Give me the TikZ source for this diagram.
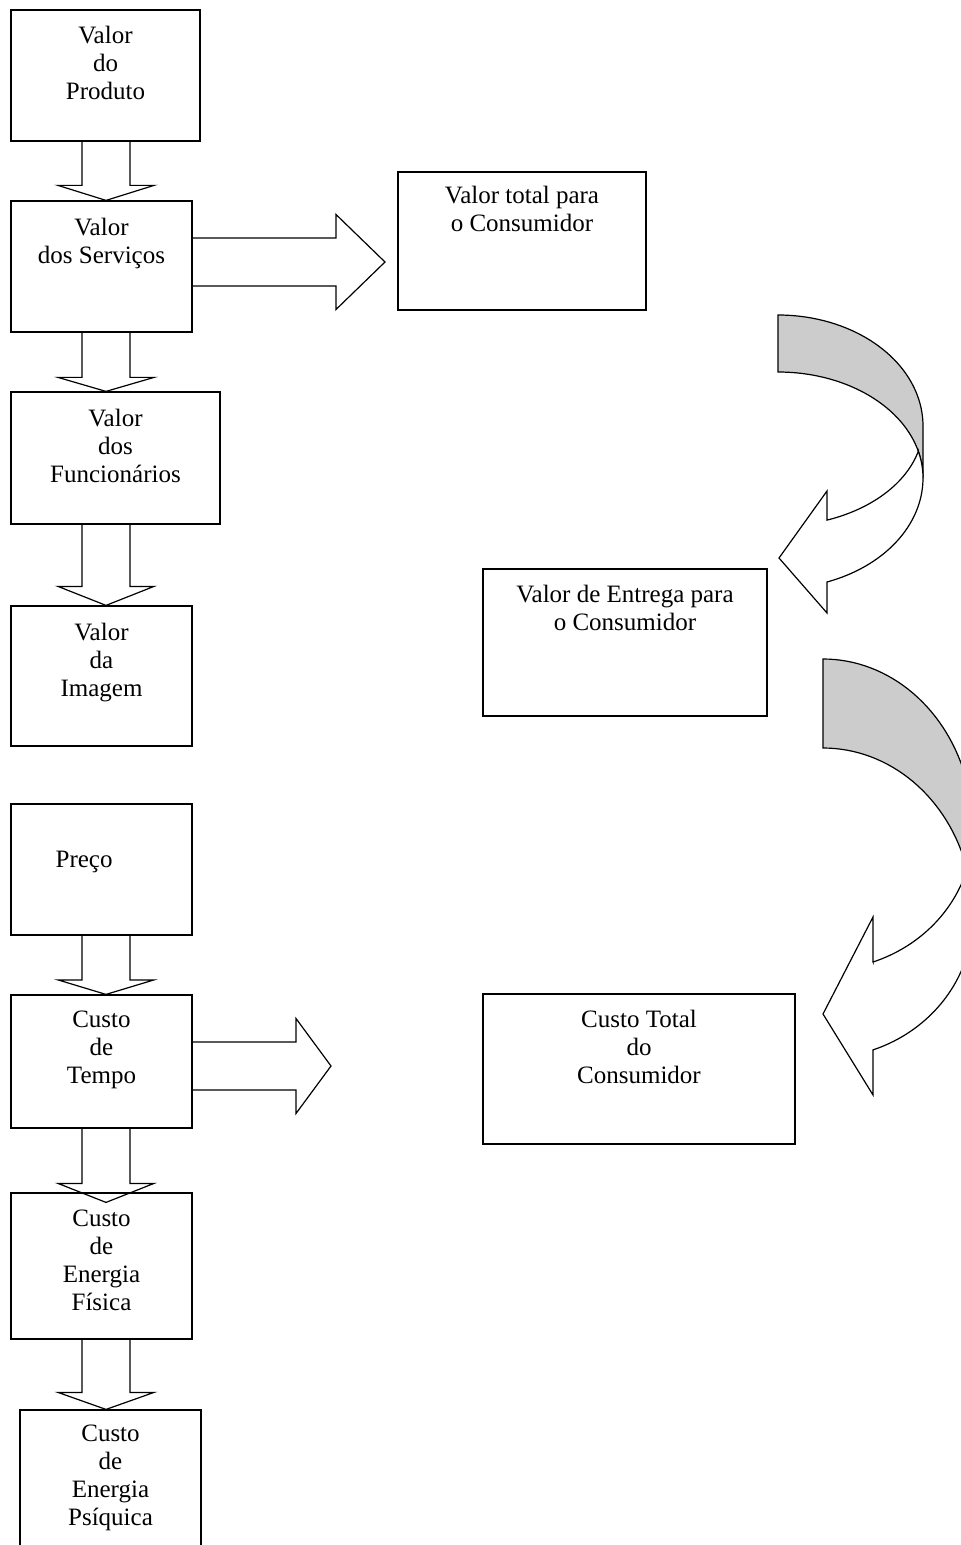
\documentclass[tikz,border=0pt]{standalone}
\usepackage{fontspec}
\setmainfont{Liberation Serif}
\usetikzlibrary{calc,fit}
\definecolor{backgray}{RGB}{204,204,204}
\newcommand\vdownarrow[4]{%
  \draw[barrow] ($(#1.south -| axis)+(-24,0)$)
    -- ($(#2.north -| axis)+(-24,#4-#3)$)
    -- ($(#2.north -| axis)+(-48,#4-#3)$)
    -- ($(#2.north -| axis)+(0,#4)$)
    -- ($(#2.north -| axis)+(48,#4-#3)$)
    -- ($(#2.north -| axis)+(24,#4-#3)$)
    -- ($(#1.south -| axis)+(24,0)$);}
\begin{document}
\begin{tikzpicture}[x=0.5pt, y=-0.5pt, line width=0.6pt,
  box/.style={draw, rectangle, inner sep=0pt},
  lbl/.style={anchor=north, inner sep=0pt, align=center, font=\fontsize{12.5}{14}\selectfont},
  barrow/.style={draw, line join=miter},
  backpart/.style={draw, fill=backgray, line join=miter},
  frontpart/.style={draw, fill=white, line join=miter}]
\useasboundingbox (0,0) rectangle (961,1545);
\fill[white] (0,0) rectangle (961,1545);
\clip (0,0) rectangle (961,1545);
\coordinate (axis) at (106,0);
% boxes
\node[box, fit={(11,10) (200,141)}] (b1) {};
\node[box, fit={(11,201) (192,332)}] (b2) {};
\node[box, fit={(11,392) (220,524)}] (b3) {};
\node[box, fit={(11,606) (192,746)}] (b4) {};
\node[box, fit={(11,804) (192,935)}] (b5) {};
\node[box, fit={(11,995) (192,1128)}] (b6) {};
\node[box, fit={(11,1193) (192,1339)}] (b7) {};
\node[box, fit={(20,1410) (201,1570)}] (b8) {};
\node[box, fit={(398,172) (646,310)}] (vt) {};
\node[box, fit={(483,569) (767,716)}] (ve) {};
\node[box, fit={(483,994) (795,1144)}] (ct) {};
% texts
\node[lbl] (t1) at ($(b1.north)+(0,16)$) {Valor\\do\\Produto};
\node[lbl] (t2) at ($(b2.north)+(0,17)$) {Valor\\dos Serviços};
\node[lbl] (t3) at ($(b3.north)+(0,17)$) {Valor\\dos\\Funcionários};
\node[lbl] (t4) at ($(b4.north)+(0,17)$) {Valor\\da\\Imagem};
\node[lbl, anchor=north west] (t5) at (55,850.5) {Preço};
\node[lbl] (t6) at ($(b6.north)+(0,16)$) {Custo\\de\\Tempo};
\node[lbl] (t7) at ($(b7.north)+(0,17)$) {Custo\\de\\Energia\\Física};
\node[lbl] (t8) at ($(b8.north)+(0,15)$) {Custo\\de\\Energia\\Psíquica};
\node[lbl] (tvt) at ($(vt.north)+(0,14)$) {Valor total para\\o Consumidor};
\node[lbl] (tve) at ($(ve.north)+(0,16)$) {Valor de Entrega para\\o Consumidor};
\node[lbl] (tct) at ($(ct.north)+(0,16)$) {Custo Total\\do\\Consumidor};
% down block arrows
\vdownarrow{b1}{b2}{15}{0}
\vdownarrow{b2}{b3}{14}{0}
\vdownarrow{b3}{b4}{19}{0}
\vdownarrow{b5}{b6}{14.5}{0}
\vdownarrow{b6}{b7}{19}{10}
\vdownarrow{b7}{b8}{17}{0}
% right block arrows
\coordinate (ra1tip) at (385,262);
\draw[barrow] ($(b2.east |- ra1tip)+(0,-24)$) -- ($(ra1tip)+(-49,-24)$) -- ($(ra1tip)+(-49,-47.5)$)
  -- (ra1tip) -- ($(ra1tip)+(-49,47.5)$) -- ($(ra1tip)+(-49,24)$) -- ($(b2.east |- ra1tip)+(0,24)$);
\coordinate (ra2tip) at (331,1066);
\draw[barrow] ($(b6.east |- ra2tip)+(0,-24)$) -- ($(ra2tip)+(-35,-24)$) -- ($(ra2tip)+(-35,-47.5)$)
  -- (ra2tip) -- ($(ra2tip)+(-35,47.5)$) -- ($(ra2tip)+(-35,24)$) -- ($(b6.east |- ra2tip)+(0,24)$);
% curved arrow 1
\path[backpart] plot[domain=90:0, samples=40] ({778+145*cos(\x)},{426-111*sin(\x)})
  -- (923,478)
  -- plot[domain=0:90, samples=40] ({778+145*cos(\x)},{478-106*sin(\x)}) -- cycle;
\path[frontpart] plot[domain=14.62:0, samples=12] ({778+145*cos(\x)},{478-106*sin(\x)})
  -- plot[domain=0:70.25, samples=40] ({778+145*cos(\x)},{478+110.5*sin(\x)})
  -- (827,613) -- (779,558) -- (827,491) -- (827,520)
  -- plot[domain=70.25:14.62, samples=40] ({778+145*cos(\x)},{426+100*sin(\x)}) -- cycle;
% curved arrow 2
\path[backpart] plot[domain=90:0, samples=40] ({823+150*cos(\x)},{830-171*sin(\x)})
  -- (973,916)
  -- plot[domain=0:90, samples=40] ({823+150*cos(\x)},{916-168*sin(\x)}) -- cycle;
\path[frontpart] plot[domain=16.21:0, samples=12] ({823+150*cos(\x)},{916-168*sin(\x)})
  -- plot[domain=0:70.53, samples=40] ({823+150*cos(\x)},{916+142*sin(\x)})
  -- (873,1095) -- (823,1014) -- (873,917) -- (873,962)
  -- plot[domain=70.53:16.21, samples=40] ({823+150*cos(\x)},{830+140*sin(\x)}) -- cycle;
\end{tikzpicture}
\end{document}
